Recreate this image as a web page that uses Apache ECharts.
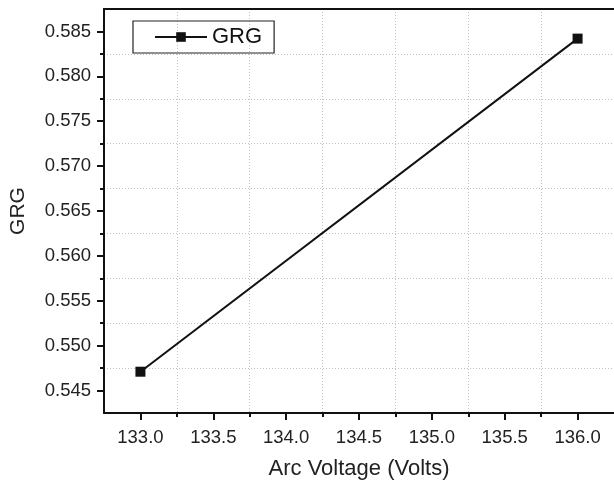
<!DOCTYPE html>
<html>
<head>
<meta charset="utf-8">
<script src="https://cdn.jsdelivr.net/npm/echarts@6/dist/echarts.min.js"></script>
<style>html,body{margin:0;padding:0;background:#fff;}#c{width:614px;height:486px;}</style>
</head>
<body>
<div id="c"></div>
<script>
var xValues = [133.0, 136.0];
var grgValues = [0.5471, 0.5842];
var xTickLabels = [133.0, 133.5, 134.0, 134.5, 135.0, 135.5, 136.0];
var yTickLabels = [0.545, 0.550, 0.555, 0.560, 0.565, 0.570, 0.575, 0.580, 0.585];
var xMinor = [133.25, 133.75, 134.25, 134.75, 135.25, 135.75];
var yMinor = [0.5475, 0.5525, 0.5575, 0.5625, 0.5675, 0.5725, 0.5775, 0.5825];

var FONT = 'Liberation Sans, Arial, sans-serif';
var chart = echarts.init(document.getElementById('c'));
var axisLine = {show: true, lineStyle: {color: '#111', width: 2}};
var gridLine = {show: true, lineStyle: {color: '#c0c0c0', type: [1, 2], width: 1}};

chart.setOption({
  animation: false,
  backgroundColor: '#fff',
  grid: {left: 103, top: 9, width: 514, height: 404, show: false},
  legend: {
    left: 133, top: 21,
    padding: [5, 12, 5, 21],
    borderColor: '#222', borderWidth: 1.2,
    itemWidth: 52, itemHeight: 12, itemGap: 6,
    textStyle: {fontFamily: FONT, fontSize: 22, color: '#111'},
    data: ['GRG']
  },
  xAxis: [{
    type: 'value', min: 132.75, max: 136.25,
    name: 'Arc Voltage (Volts)', nameLocation: 'middle', nameGap: 45,
    nameTextStyle: {fontFamily: FONT, fontSize: 22, color: '#222'},
    axisLine: axisLine,
    axisTick: {show: true, inside: false, length: 7, lineStyle: {color: '#111', width: 2}, customValues: xTickLabels},
    axisLabel: {fontFamily: FONT, fontSize: 18.5, color: '#222', margin: 15, customValues: xTickLabels,
      formatter: function (v) { return v.toFixed(1); }},
    splitLine: {show: false}
  }, {
    type: 'value', min: 132.75, max: 136.25, position: 'bottom',
    axisLine: {show: false},
    axisTick: {show: true, length: 4, lineStyle: {color: '#111', width: 2}, customValues: xMinor},
    axisLabel: {show: false},
    splitLine: gridLine, interval: 0.25
  }],
  yAxis: [{
    type: 'value', min: 0.5425, max: 0.5875,
    name: 'GRG', nameLocation: 'middle', nameGap: 75,
    nameTextStyle: {fontFamily: FONT, fontSize: 21, color: '#222'},
    axisLine: axisLine,
    axisTick: {show: true, length: 7, lineStyle: {color: '#111', width: 2}, customValues: yTickLabels},
    axisLabel: {fontFamily: FONT, fontSize: 18.5, color: '#222', margin: 13, customValues: yTickLabels,
      formatter: function (v) { return v.toFixed(3); }},
    splitLine: {show: false}
  }, {
    type: 'value', min: 0.5425, max: 0.5875, position: 'left',
    axisLine: {show: false},
    axisTick: {show: true, length: 4, lineStyle: {color: '#111', width: 2}, customValues: yMinor},
    axisLabel: {show: false},
    splitLine: gridLine, interval: 0.0025
  }],
  graphic: [{
    type: 'line', z: 10,
    shape: {x1: 103, y1: 9, x2: 614, y2: 9},
    style: {stroke: '#111', lineWidth: 2}
  }],
  series: [{
    name: 'GRG', type: 'line',
    xAxisIndex: 0, yAxisIndex: 0,
    data: xValues.map(function (x, i) { return [x, grgValues[i]]; }),
    symbol: 'rect', symbolSize: 10,
    lineStyle: {color: '#111', width: 2},
    itemStyle: {color: '#111'},
    z: 5
  }]
});
</script>
</body>
</html>
